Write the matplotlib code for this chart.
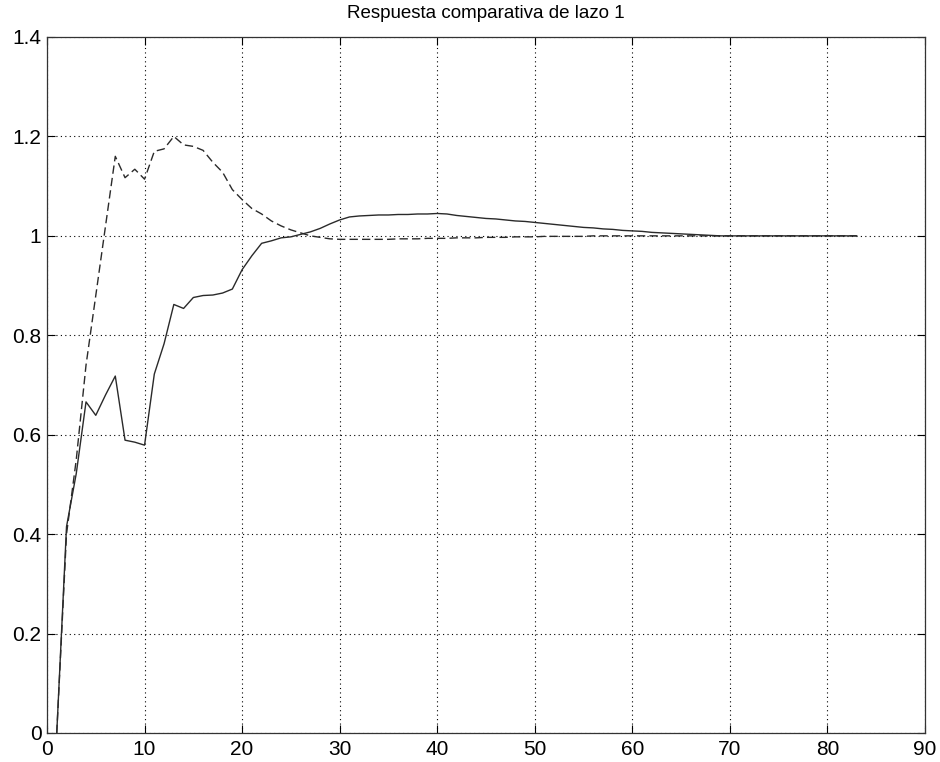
import matplotlib
matplotlib.use("Agg")
import matplotlib.pyplot as plt
import numpy as np

# Sample index (x axis)
x_values = list(range(1, 84))

# Solid line response
solid_response = [
    0.000, 0.415, 0.522, 0.666, 0.639, 0.680, 0.718, 0.589, 0.585, 0.579,
    0.722, 0.783, 0.862, 0.854, 0.876, 0.880, 0.881, 0.885, 0.893, 0.932,
    0.960, 0.985, 0.990, 0.996, 0.998, 1.003, 1.008, 1.015, 1.024, 1.032,
    1.038, 1.040, 1.041, 1.042, 1.042, 1.043, 1.043, 1.044, 1.044, 1.045,
    1.044, 1.041, 1.039, 1.037, 1.035, 1.034, 1.032, 1.030, 1.029, 1.027,
    1.025, 1.023, 1.021, 1.019, 1.017, 1.016, 1.014, 1.013, 1.011, 1.010,
    1.009, 1.007, 1.006, 1.005, 1.004, 1.003, 1.002, 1.001, 1.000, 1.000,
    1.000, 1.000, 1.000, 1.000, 1.000, 1.000, 1.000, 1.000, 1.000, 1.000,
    1.000, 1.000, 1.000,
]

# Dashed line response
dashed_response = [
    0.000, 0.400, 0.550, 0.740, 0.880, 1.020, 1.160, 1.117, 1.134, 1.114,
    1.170, 1.175, 1.200, 1.183, 1.180, 1.172, 1.148, 1.128, 1.093, 1.073,
    1.055, 1.044, 1.030, 1.020, 1.012, 1.006, 1.000, 0.997, 0.994, 0.993,
    0.993, 0.993, 0.993, 0.993, 0.993, 0.994, 0.994, 0.994, 0.995, 0.995,
    0.995, 0.996, 0.996, 0.996, 0.997, 0.997, 0.997, 0.998, 0.998, 0.998,
    0.999, 0.999, 0.999, 0.999, 0.999, 1.000, 1.000, 1.000, 1.000, 1.000,
    1.000, 1.000, 1.000, 1.000, 1.000, 1.000, 1.000, 1.000, 1.000, 1.000,
    1.000, 1.000, 1.000, 1.000, 1.000, 1.000, 1.000, 1.000, 1.000, 1.000,
    1.000, 1.000, 1.000,
]

x_ticks = [0, 10, 20, 30, 40, 50, 60, 70, 80, 90]
y_ticks = [0, 0.2, 0.4, 0.6, 0.8, 1.0, 1.2, 1.4]
y_tick_labels = ["0", "0.2", "0.4", "0.6", "0.8", "1", "1.2", "1.4"]
title_text = "Respuesta comparativa de lazo 1"

plt.rcParams['font.family'] = ['Liberation Sans', 'DejaVu Sans']

fig = plt.figure(figsize=(9.4, 7.62), dpi=100)
ax = fig.add_axes([47/940, 1 - 733/762, (925 - 47)/940, (733 - 37)/762])

ax.plot(x_values, solid_response, color='#2a2a2a', linewidth=1.0, linestyle='-')
ax.plot(x_values, dashed_response, color='#2a2a2a', linewidth=1.0,
        linestyle=(0, (6, 3)))

ax.set_xlim(0, 90)
ax.set_ylim(0, 1.4)
ax.set_xticks(x_ticks)
ax.set_xticklabels([str(t) for t in x_ticks])
ax.set_yticks(y_ticks)
ax.set_yticklabels(y_tick_labels)

ax.grid(True, color='black', linestyle=(0, (1, 3)), linewidth=0.8)
ax.tick_params(direction='in', length=6, width=0.8, top=True, right=True,
               labelsize=15, colors='black')
ax.tick_params(axis='x', pad=5)
ax.tick_params(axis='y', pad=4)
for s in ax.spines.values():
    s.set_linewidth(0.9)
    s.set_color('#333333')

ax.set_title(title_text, fontsize=13.5, pad=14)

fig.savefig("out.png", dpi=100, facecolor='white')
